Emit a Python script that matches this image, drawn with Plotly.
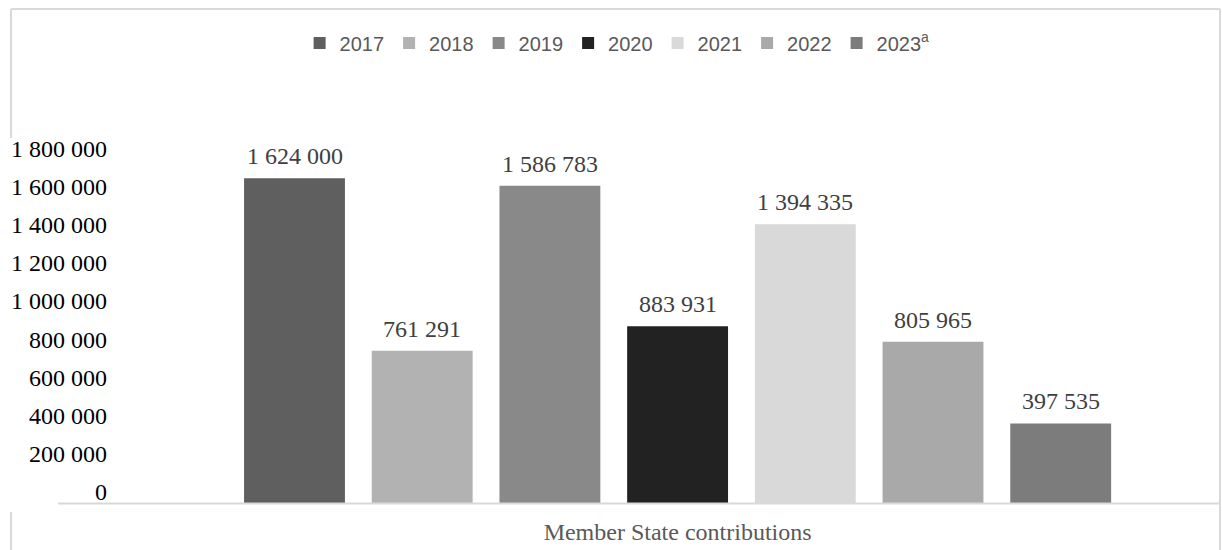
import plotly.graph_objects as go

# Contributions by year
years = ["2017", "2018", "2019", "2020", "2021", "2022", "2023"]
legend_names = ["2017", "2018", "2019", "2020", "2021", "2022", "2023<sup>a</sup>"]
contributions = [1624000, 761291, 1586783, 883931, 1394335, 805965, 397535]
bar_colors = ["#5f5f5f", "#b2b2b2", "#898989", "#222222", "#d9d9d9", "#a9a9a9", "#7c7c7c"]
category_label = "Member State contributions"
y_ticks = [0, 200000, 400000, 600000, 800000, 1000000, 1200000, 1400000, 1600000, 1800000]

W, H = 1222, 550
ML, MR, MT, MB = 114, 2, 130, 47
PW, PH = W - ML - MR, H - MT - MB


def px_x(p):
    return (p - ML) / PW


def px_y(p):
    return (H - MB - p) / PH


def fmt(v):
    return f"{v:,}".replace(",", " ")


fig = go.Figure()
for i, (name, val, col) in enumerate(zip(legend_names, contributions, bar_colors)):
    fig.add_trace(go.Bar(
        x=[i], y=[val], name=name, width=0.79,
        marker=dict(color=col, line=dict(width=0)),
        hoverinfo="skip",
    ))
    fig.add_annotation(
        x=i, y=val, text=fmt(val), showarrow=False,
        yanchor="bottom", yshift=7,
        font=dict(family="Liberation Serif", size=24, color="#404040"),
    )

frame = "#d9d9d9"
shapes = [
    # chart frame
    dict(type="line", xref="paper", yref="paper", x0=px_x(11), x1=px_x(1220), y0=px_y(9), y1=px_y(9)),
    dict(type="line", xref="paper", yref="paper", x0=px_x(1220), x1=px_x(1220), y0=px_y(9), y1=px_y(552)),
    dict(type="line", xref="paper", yref="paper", x0=px_x(11), x1=px_x(11), y0=px_y(9), y1=px_y(138)),
    dict(type="line", xref="paper", yref="paper", x0=px_x(11), x1=px_x(11), y0=px_y(512), y1=px_y(552)),
    # category axis baseline
    dict(type="line", xref="paper", yref="paper", x0=px_x(58), x1=px_x(1220), y0=px_y(503.5), y1=px_y(503.5)),
]
for s in shapes:
    s["line"] = dict(color=frame, width=2)
    s["layer"] = "above"

# bar pitch of 127.7 px, first bar centred at 294.5 px
x_left = (ML - 294.5) / 127.7
x_right = (W - MR - 294.5) / 127.7

# value axis: 200 px per million
y_top = PH / 200.0 * 1e6

# tick-label axis, its labels sit slightly above the value grid
lab_step = 38.2
lab_zero = 492
lab_lo = -(H - MB - lab_zero) * 200000 / lab_step
lab_hi = (lab_zero - MT) * 200000 / lab_step

fig.update_layout(
    width=W, height=H,
    margin=dict(l=ML, r=MR, t=MT, b=MB, pad=0),
    paper_bgcolor="white", plot_bgcolor="white",
    shapes=shapes,
    showlegend=True,
    legend=dict(
        orientation="h", xref="container", yref="container",
        x=0.505, xanchor="center", y=1 - 43 / H, yanchor="middle",
        font=dict(family="Liberation Sans", size=20, color="#595959"),
        itemwidth=30, traceorder="normal",
    ),
    xaxis=dict(
        range=[x_left, x_right],
        tickmode="array", tickvals=[(len(years) - 1) / 2], ticktext=[category_label],
        showgrid=False, zeroline=False, showline=False, ticks="",
        tickfont=dict(family="Liberation Serif", size=24, color="#595959"),
        ticklabelstandoff=12,
    ),
    yaxis=dict(
        range=[0, y_top],
        showticklabels=False,
        showgrid=False, zeroline=False, showline=False, ticks="",
    ),
    yaxis2=dict(
        overlaying="y", side="left", range=[lab_lo, lab_hi],
        tickmode="array", tickvals=y_ticks, ticktext=[fmt(v) for v in y_ticks],
        showgrid=False, zeroline=False, showline=False, ticks="",
        tickfont=dict(family="Liberation Serif", size=24, color="#000000"),
        ticklabelstandoff=6,
    ),
)

# an empty trace keeps the label axis drawn
fig.add_trace(go.Scatter(x=[None], y=[None], yaxis="y2", showlegend=False, hoverinfo="skip"))

fig.write_html("out.html")
